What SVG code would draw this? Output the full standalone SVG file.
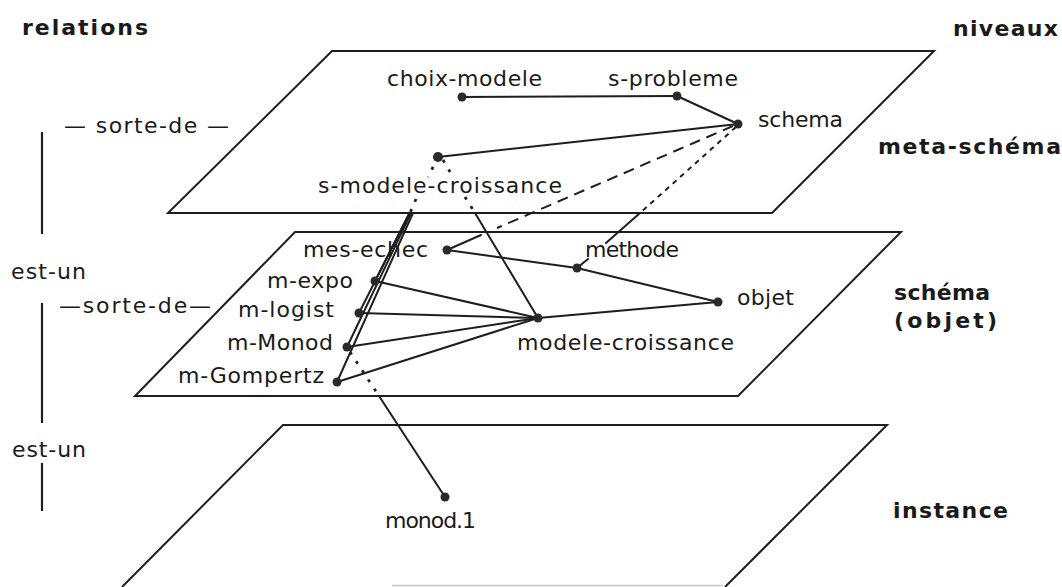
<svg xmlns="http://www.w3.org/2000/svg" width="1062" height="587" viewBox="0 0 1062 587">
  <style>
    .plane{fill:none;stroke:#1e1e1e;stroke-width:2;stroke-linejoin:miter}
    .lbl{font-family:"DejaVu Sans","Liberation Sans",sans-serif;font-size:22px;fill:#1a1a1a}
    .lvl{font-family:"DejaVu Sans","Liberation Sans",sans-serif;font-size:22px;font-weight:bold;fill:#1a1a1a}
    .edge{fill:none;stroke:#1e1e1e;stroke-width:2;stroke-linecap:round}
    .dash{stroke-dasharray:11 7;stroke-linecap:butt}
    .fine{stroke-dasharray:5 5;stroke-linecap:butt}
    .dotted{stroke-dasharray:3 8;stroke-width:2.8;stroke-linecap:butt}
    .pt{fill:#2a2a2a}
    .bar{stroke:#1e1e1e;stroke-width:2.2}
  </style>

  <rect width="1062" height="587" fill="#ffffff"/>

  <!-- the three levels, drawn as planes seen in perspective -->
  <g id="planes">
    <path class="plane" d="M332,51 H934 L772,213 H168 Z"/>
    <path class="plane" d="M295,232 H901 L738,396 H135 Z"/>
    <path class="plane" d="M122,587 L283,425 H887 L725,587"/>
    <line x1="392" y1="585.5" x2="723" y2="585.5" stroke="#c8c8c8" stroke-width="1.5"/>
  </g>

  <!-- column headings and level names -->
  <g id="headings">
    <text class="lvl" x="22" y="35" textLength="126" lengthAdjust="spacing">relations</text>
    <text class="lvl" x="953" y="36" textLength="105" lengthAdjust="spacing">niveaux</text>
    <text class="lvl" x="878" y="154" textLength="183" lengthAdjust="spacing">meta-schéma</text>
    <text class="lvl" x="894" y="300" textLength="96" lengthAdjust="spacing">schéma</text>
    <text class="lvl" x="894" y="328" textLength="103" lengthAdjust="spacing">(objet)</text>
    <text class="lvl" x="893" y="518" textLength="115" lengthAdjust="spacing">instance</text>
  </g>

  <!-- relation legend on the left -->
  <g id="legend">
    <text class="lbl" x="64" y="133" textLength="165" lengthAdjust="spacing">— sorte-de —</text>
    <line class="bar" x1="42" y1="132" x2="42" y2="234"/>
    <text class="lbl" x="11" y="279" textLength="75" lengthAdjust="spacing">est-un</text>
    <text class="lbl" x="59" y="313" textLength="152" lengthAdjust="spacing">—sorte-de—</text>
    <line class="bar" x1="42" y1="303" x2="42" y2="423"/>
    <text class="lbl" x="12" y="457" textLength="74" lengthAdjust="spacing">est-un</text>
    <line class="bar" x1="42" y1="463" x2="42" y2="511"/>
  </g>

  <!-- links between the nodes -->
  <g id="connectors">
    <!-- meta-schema level -->
    <path class="edge" d="M462,97 L677,96"/>
    <path class="edge" d="M677,96 L738,124"/>
    <path class="edge" d="M438,157 L738,124"/>

    <!-- schema -> mes-echec -->
    <path class="edge dash" d="M733,126 L497,228"/>
    <path class="edge" d="M481,235 L447,250"/>

    <!-- schema -> methode -->
    <path class="edge fine" d="M736,127 L640,213"/>
    <path class="edge" d="M640,213 L606,243 M588,259 L577,268"/>

    <!-- s-modele-croissance -> modele-croissance -->
    <path class="edge dotted" d="M443,160 L453,177 M465,197 L475,213"/>
    <path class="edge" d="M475,213 L538,318"/>

    <!-- s-modele-croissance -> m-expo, m-logist, m-Monod, m-Gompertz -->
    <path class="edge dotted" d="M438,157 L428,177 M416,199 L410,213"/>
    <path class="edge" d="M409.5,213 L375,281"/>
    <path class="edge" d="M409.6,213 L359,313"/>
    <path class="edge" d="M411,213 L347,347"/>
    <path class="edge" d="M413,213 L337,382"/>

    <!-- m-* -> modele-croissance -->
    <path class="edge" d="M375,281 L538,318"/>
    <path class="edge" d="M359,313 L538,318"/>
    <path class="edge" d="M347,347 L538,318"/>
    <path class="edge" d="M337,382 L538,318"/>

    <!-- objet links -->
    <path class="edge" d="M447,250 L577,268 L718,302"/>
    <path class="edge" d="M538,318 L718,302"/>

    <!-- m-Monod -> monod.1 -->
    <path class="edge dotted" d="M350,352 L379,396"/>
    <path class="edge" d="M379,396 L445,497"/>
  </g>

  <!-- nodes -->
  <g id="choix-modele">
    <circle class="pt" cx="462" cy="97" r="4.5"/>
    <text class="lbl" x="387" y="86" textLength="155" lengthAdjust="spacing">choix-modele</text>
  </g>
  <g id="s-probleme">
    <circle class="pt" cx="677" cy="96" r="4.5"/>
    <text class="lbl" x="608" y="86" textLength="130" lengthAdjust="spacing">s-probleme</text>
  </g>
  <g id="schema">
    <circle class="pt" cx="738" cy="124" r="4.5"/>
    <text class="lbl" x="758" y="127" textLength="85" lengthAdjust="spacing">schema</text>
  </g>
  <g id="s-modele-croissance">
    <circle class="pt" cx="438" cy="157" r="5"/>
    <text class="lbl" x="318" y="193" textLength="244" lengthAdjust="spacing">s-modele-croissance</text>
  </g>
  <g id="mes-echec">
    <circle class="pt" cx="447" cy="250" r="4.5"/>
    <text class="lbl" x="303" y="257" textLength="125" lengthAdjust="spacing">mes-echec</text>
  </g>
  <g id="methode">
    <circle class="pt" cx="577" cy="268" r="4.5"/>
    <text class="lbl" x="585" y="257" textLength="94" lengthAdjust="spacing">methode</text>
  </g>
  <g id="objet">
    <circle class="pt" cx="718" cy="302" r="4.5"/>
    <text class="lbl" x="737" y="305" textLength="57" lengthAdjust="spacing">objet</text>
  </g>
  <g id="m-expo">
    <circle class="pt" cx="375" cy="281" r="4.5"/>
    <text class="lbl" x="267" y="288" textLength="86" lengthAdjust="spacing">m-expo</text>
  </g>
  <g id="m-logist">
    <circle class="pt" cx="359" cy="313" r="4.5"/>
    <text class="lbl" x="238" y="317" textLength="96" lengthAdjust="spacing">m-logist</text>
  </g>
  <g id="m-Monod">
    <circle class="pt" cx="347" cy="347" r="4.5"/>
    <text class="lbl" x="227" y="350" textLength="106" lengthAdjust="spacing">m-Monod</text>
  </g>
  <g id="m-Gompertz">
    <circle class="pt" cx="337" cy="382" r="4.5"/>
    <text class="lbl" x="178" y="383" textLength="146" lengthAdjust="spacing">m-Gompertz</text>
  </g>
  <g id="modele-croissance">
    <circle class="pt" cx="538" cy="318" r="4.5"/>
    <text class="lbl" x="517" y="350" textLength="217" lengthAdjust="spacing">modele-croissance</text>
  </g>
  <g id="monod.1">
    <circle class="pt" cx="445" cy="497" r="4.5"/>
    <text class="lbl" x="385" y="528" textLength="91" lengthAdjust="spacing">monod.1</text>
  </g>
</svg>
